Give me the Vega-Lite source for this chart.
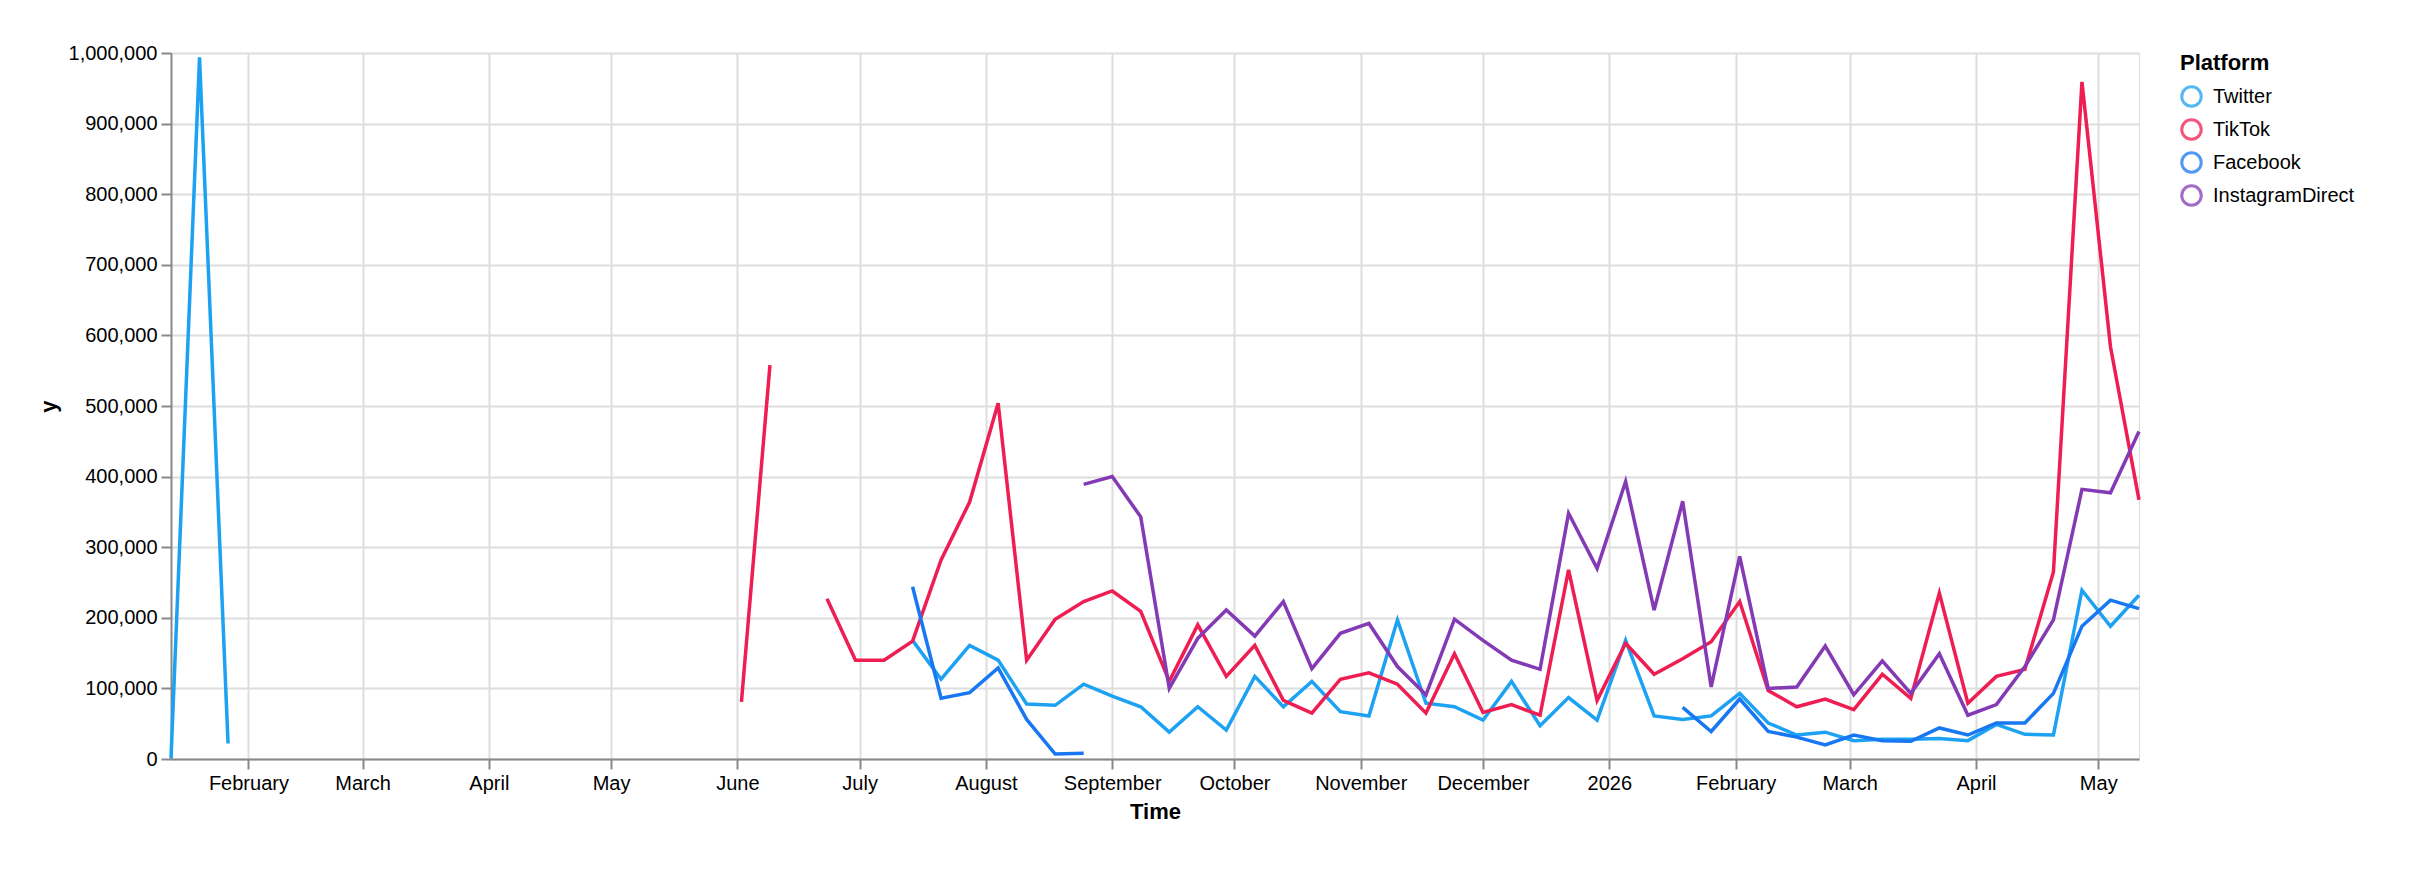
{
  "$schema": "https://vega.github.io/schema/vega-lite/v6.json",
  "autosize": "none",
  "width": 1968,
  "height": 706,
  "padding": {"left": 171, "top": 53, "right": 285, "bottom": 121},
  "background": "white",
  "data": {
    "values": [
      {"Time": "2025-01-13T00:00:00", "Twitter": 1000, "TikTok": null, "Facebook": null, "InstagramDirect": null},
      {"Time": "2025-01-20T00:00:00", "Twitter": 994000, "TikTok": null, "Facebook": null, "InstagramDirect": null},
      {"Time": "2025-01-27T00:00:00", "Twitter": 22000, "TikTok": null, "Facebook": null, "InstagramDirect": null},
      {"Time": "2025-02-03T00:00:00", "Twitter": null, "TikTok": null, "Facebook": null, "InstagramDirect": null},
      {"Time": "2025-02-10T00:00:00", "Twitter": null, "TikTok": null, "Facebook": null, "InstagramDirect": null},
      {"Time": "2025-02-17T00:00:00", "Twitter": null, "TikTok": null, "Facebook": null, "InstagramDirect": null},
      {"Time": "2025-02-24T00:00:00", "Twitter": null, "TikTok": null, "Facebook": null, "InstagramDirect": null},
      {"Time": "2025-03-03T00:00:00", "Twitter": null, "TikTok": null, "Facebook": null, "InstagramDirect": null},
      {"Time": "2025-03-10T00:00:00", "Twitter": null, "TikTok": null, "Facebook": null, "InstagramDirect": null},
      {"Time": "2025-03-17T00:00:00", "Twitter": null, "TikTok": null, "Facebook": null, "InstagramDirect": null},
      {"Time": "2025-03-24T00:00:00", "Twitter": null, "TikTok": null, "Facebook": null, "InstagramDirect": null},
      {"Time": "2025-03-31T00:00:00", "Twitter": null, "TikTok": null, "Facebook": null, "InstagramDirect": null},
      {"Time": "2025-04-07T00:00:00", "Twitter": null, "TikTok": null, "Facebook": null, "InstagramDirect": null},
      {"Time": "2025-04-14T00:00:00", "Twitter": null, "TikTok": null, "Facebook": null, "InstagramDirect": null},
      {"Time": "2025-04-21T00:00:00", "Twitter": null, "TikTok": null, "Facebook": null, "InstagramDirect": null},
      {"Time": "2025-04-28T00:00:00", "Twitter": null, "TikTok": null, "Facebook": null, "InstagramDirect": null},
      {"Time": "2025-05-05T00:00:00", "Twitter": null, "TikTok": null, "Facebook": null, "InstagramDirect": null},
      {"Time": "2025-05-12T00:00:00", "Twitter": null, "TikTok": null, "Facebook": null, "InstagramDirect": null},
      {"Time": "2025-05-19T00:00:00", "Twitter": null, "TikTok": null, "Facebook": null, "InstagramDirect": null},
      {"Time": "2025-05-26T00:00:00", "Twitter": null, "TikTok": null, "Facebook": null, "InstagramDirect": null},
      {"Time": "2025-06-02T00:00:00", "Twitter": null, "TikTok": 81000, "Facebook": null, "InstagramDirect": null},
      {"Time": "2025-06-09T00:00:00", "Twitter": null, "TikTok": 558000, "Facebook": null, "InstagramDirect": null},
      {"Time": "2025-06-16T00:00:00", "Twitter": null, "TikTok": null, "Facebook": null, "InstagramDirect": null},
      {"Time": "2025-06-23T00:00:00", "Twitter": null, "TikTok": 227000, "Facebook": null, "InstagramDirect": null},
      {"Time": "2025-06-30T00:00:00", "Twitter": null, "TikTok": 140000, "Facebook": null, "InstagramDirect": null},
      {"Time": "2025-07-07T00:00:00", "Twitter": null, "TikTok": 140000, "Facebook": null, "InstagramDirect": null},
      {"Time": "2025-07-14T00:00:00", "Twitter": 168000, "TikTok": 167000, "Facebook": 244000, "InstagramDirect": null},
      {"Time": "2025-07-21T00:00:00", "Twitter": 113000, "TikTok": 282000, "Facebook": 86000, "InstagramDirect": null},
      {"Time": "2025-07-28T00:00:00", "Twitter": 161000, "TikTok": 364000, "Facebook": 94000, "InstagramDirect": null},
      {"Time": "2025-08-04T00:00:00", "Twitter": 140000, "TikTok": 504000, "Facebook": 129000, "InstagramDirect": null},
      {"Time": "2025-08-11T00:00:00", "Twitter": 78000, "TikTok": 140000, "Facebook": 56000, "InstagramDirect": null},
      {"Time": "2025-08-18T00:00:00", "Twitter": 76000, "TikTok": 198000, "Facebook": 7000, "InstagramDirect": null},
      {"Time": "2025-08-25T00:00:00", "Twitter": 106000, "TikTok": 223000, "Facebook": 8000, "InstagramDirect": 389000},
      {"Time": "2025-09-01T00:00:00", "Twitter": 89000, "TikTok": 238000, "Facebook": null, "InstagramDirect": 400000},
      {"Time": "2025-09-08T00:00:00", "Twitter": 74000, "TikTok": 209000, "Facebook": null, "InstagramDirect": 343000},
      {"Time": "2025-09-15T00:00:00", "Twitter": 38000, "TikTok": 110000, "Facebook": null, "InstagramDirect": 100000},
      {"Time": "2025-09-22T00:00:00", "Twitter": 74000, "TikTok": 190000, "Facebook": null, "InstagramDirect": 171000},
      {"Time": "2025-09-29T00:00:00", "Twitter": 41000, "TikTok": 117000, "Facebook": null, "InstagramDirect": 211000},
      {"Time": "2025-10-06T00:00:00", "Twitter": 117000, "TikTok": 161000, "Facebook": null, "InstagramDirect": 174000},
      {"Time": "2025-10-13T00:00:00", "Twitter": 74000, "TikTok": 83000, "Facebook": null, "InstagramDirect": 223000},
      {"Time": "2025-10-20T00:00:00", "Twitter": 110000, "TikTok": 65000, "Facebook": null, "InstagramDirect": 128000},
      {"Time": "2025-10-27T00:00:00", "Twitter": 67000, "TikTok": 113000, "Facebook": null, "InstagramDirect": 178000},
      {"Time": "2025-11-03T00:00:00", "Twitter": 61000, "TikTok": 122000, "Facebook": null, "InstagramDirect": 192000},
      {"Time": "2025-11-10T00:00:00", "Twitter": 197000, "TikTok": 106000, "Facebook": null, "InstagramDirect": 131000},
      {"Time": "2025-11-17T00:00:00", "Twitter": 79000, "TikTok": 65000, "Facebook": null, "InstagramDirect": 91000},
      {"Time": "2025-11-24T00:00:00", "Twitter": 74000, "TikTok": 149000, "Facebook": null, "InstagramDirect": 198000},
      {"Time": "2025-12-01T00:00:00", "Twitter": 55000, "TikTok": 66000, "Facebook": null, "InstagramDirect": 168000},
      {"Time": "2025-12-08T00:00:00", "Twitter": 110000, "TikTok": 77000, "Facebook": null, "InstagramDirect": 140000},
      {"Time": "2025-12-15T00:00:00", "Twitter": 47000, "TikTok": 62000, "Facebook": null, "InstagramDirect": 127000},
      {"Time": "2025-12-22T00:00:00", "Twitter": 87000, "TikTok": 268000, "Facebook": null, "InstagramDirect": 348000},
      {"Time": "2025-12-29T00:00:00", "Twitter": 55000, "TikTok": 83000, "Facebook": null, "InstagramDirect": 270000},
      {"Time": "2026-01-05T00:00:00", "Twitter": 168000, "TikTok": 164000, "Facebook": null, "InstagramDirect": 393000},
      {"Time": "2026-01-12T00:00:00", "Twitter": 61000, "TikTok": 120000, "Facebook": null, "InstagramDirect": 211000},
      {"Time": "2026-01-19T00:00:00", "Twitter": 56000, "TikTok": 142000, "Facebook": 73000, "InstagramDirect": 365000},
      {"Time": "2026-01-26T00:00:00", "Twitter": 61000, "TikTok": 166000, "Facebook": 39000, "InstagramDirect": 102000},
      {"Time": "2026-02-02T00:00:00", "Twitter": 93000, "TikTok": 223000, "Facebook": 85000, "InstagramDirect": 287000},
      {"Time": "2026-02-09T00:00:00", "Twitter": 51000, "TikTok": 97000, "Facebook": 39000, "InstagramDirect": 100000},
      {"Time": "2026-02-16T00:00:00", "Twitter": 34000, "TikTok": 74000, "Facebook": 31000, "InstagramDirect": 102000},
      {"Time": "2026-02-23T00:00:00", "Twitter": 38000, "TikTok": 85000, "Facebook": 20000, "InstagramDirect": 160000},
      {"Time": "2026-03-02T00:00:00", "Twitter": 26000, "TikTok": 70000, "Facebook": 34000, "InstagramDirect": 91000},
      {"Time": "2026-03-09T00:00:00", "Twitter": 28000, "TikTok": 120000, "Facebook": 26000, "InstagramDirect": 139000},
      {"Time": "2026-03-16T00:00:00", "Twitter": 28000, "TikTok": 86000, "Facebook": 25000, "InstagramDirect": 93000},
      {"Time": "2026-03-23T00:00:00", "Twitter": 29000, "TikTok": 235000, "Facebook": 44000, "InstagramDirect": 149000},
      {"Time": "2026-03-30T00:00:00", "Twitter": 26000, "TikTok": 79000, "Facebook": 34000, "InstagramDirect": 62000},
      {"Time": "2026-04-06T00:00:00", "Twitter": 49000, "TikTok": 117000, "Facebook": 51000, "InstagramDirect": 77000},
      {"Time": "2026-04-13T00:00:00", "Twitter": 35000, "TikTok": 127000, "Facebook": 51000, "InstagramDirect": 131000},
      {"Time": "2026-04-20T00:00:00", "Twitter": 34000, "TikTok": 265000, "Facebook": 93000, "InstagramDirect": 197000},
      {"Time": "2026-04-27T00:00:00", "Twitter": 239000, "TikTok": 959000, "Facebook": 188000, "InstagramDirect": 382000},
      {"Time": "2026-05-04T00:00:00", "Twitter": 188000, "TikTok": 584000, "Facebook": 225000, "InstagramDirect": 377000},
      {"Time": "2026-05-11T00:00:00", "Twitter": 232000, "TikTok": 367000, "Facebook": 213000, "InstagramDirect": 464000}
    ]
  },
  "transform": [
    {"fold": ["Twitter", "TikTok", "Facebook", "InstagramDirect"], "as": ["Platform", "y"]}
  ],
  "mark": {"type": "line", "strokeWidth": 3.5, "invalid": "break-paths-show-domains"},
  "encoding": {
    "x": {
      "field": "Time",
      "type": "temporal",
      "title": "Time",
      "axis": {"tickCount": "month"}
    },
    "y": {
      "field": "y",
      "type": "quantitative",
      "title": "y",
      "axis": {"tickCount": 10}
    },
    "color": {
      "field": "Platform",
      "type": "nominal",
      "scale": {
        "domain": ["Twitter", "TikTok", "Facebook", "InstagramDirect"],
        "range": ["#1DA1F2", "#EE1D52", "#1877F2", "#833AB4"]
      },
      "legend": {"symbolType": "circle", "symbolFillColor": "transparent"}
    }
  },
  "config": {
    "font": "Liberation Sans",
    "axis": {
      "labelFontSize": 20,
      "titleFontSize": 22,
      "tickSize": 10,
      "tickWidth": 2,
      "domainWidth": 2,
      "gridWidth": 2,
      "labelPadding": 4,
      "titlePadding": 8
    },
    "legend": {
      "titleFontSize": 22,
      "labelFontSize": 20,
      "symbolSize": 380,
      "symbolStrokeWidth": 3,
      "symbolOpacity": 0.75,
      "rowPadding": 0,
      "offset": 34,
      "titlePadding": 10,
      "labelOffset": 10
    }
  }
}
